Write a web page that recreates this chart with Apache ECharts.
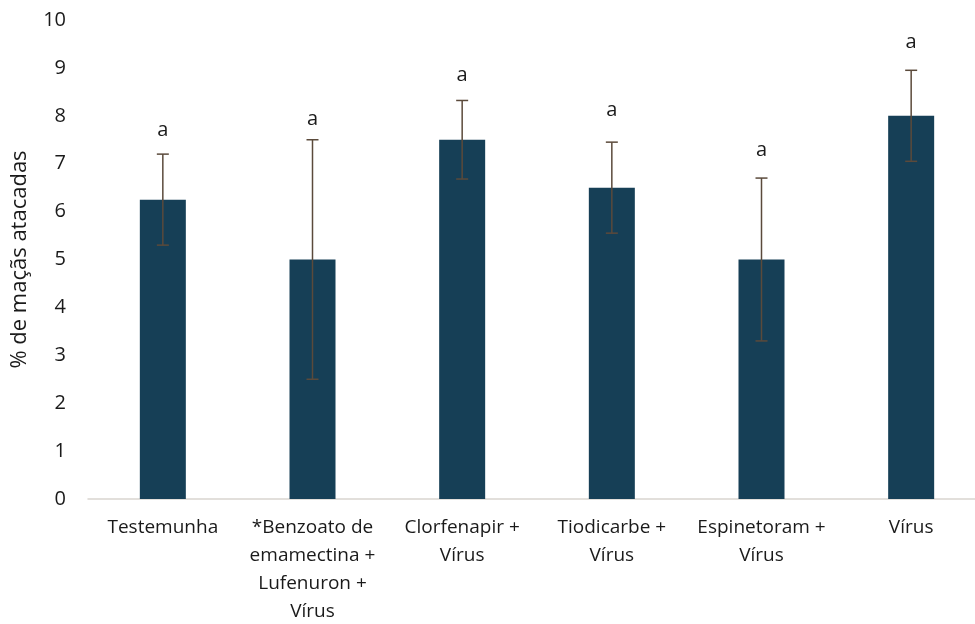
<!DOCTYPE html>
<html>
<head>
<meta charset="utf-8">
<script src="https://cdn.jsdelivr.net/npm/echarts@6/dist/echarts.min.js"></script>
<style>
  html, body { margin: 0; padding: 0; background: #fff; overflow: hidden; }
  #chart { width: 975px; height: 624px; }
</style>
</head>
<body>
<div id="chart"></div>
<script>
// Treatments tested
const categories = [
  'Testemunha',
  '*Benzoato de\nemamectina +\nLufenuron +\nVírus',
  'Clorfenapir +\nVírus',
  'Tiodicarbe +\nVírus',
  'Espinetoram +\nVírus',
  'Vírus'
];
// Mean % of attacked apples
const means = [6.25, 5.0, 7.5, 6.5, 5.0, 8.0];
// Standard error (± around mean)
const errors = [0.95, 2.5, 0.82, 0.95, 1.7, 0.95];
// Statistical grouping letters and the height at which each is written
const letters = ['a', 'a', 'a', 'a', 'a', 'a'];
const letterAt = [7.69, 7.93, 8.85, 8.12, 7.27, 9.53];
// Y-axis ticks
const yTicks = [0, 1, 2, 3, 4, 5, 6, 7, 8, 9, 10];

const FONT = 'Open Sans';
const chart = echarts.init(document.getElementById('chart'), null, { renderer: 'canvas' });

const errData = means.map((m, i) => [i, m - errors[i], m + errors[i]]);
const letterData = letters.map((t, i) => [i, letterAt[i], t]);

chart.setOption({
  animation: false,
  backgroundColor: '#ffffff',
  grid: {
    left: 88, top: 20, width: 898, height: 479,
    containLabel: false,
    outerBoundsMode: 'none'
  },
  xAxis: {
    type: 'category',
    data: categories,
    axisLine: { lineStyle: { color: '#d9d5cf', width: 1.5 } },
    axisTick: { show: false },
    axisLabel: {
      interval: 0,
      margin: 15,
      color: '#1a1a1a',
      fontFamily: FONT,
      fontSize: 19,
      lineHeight: 28
    }
  },
  yAxis: {
    type: 'value',
    min: yTicks[0],
    max: yTicks[yTicks.length - 1],
    interval: 1,
    name: '% de maçãs atacadas',
    nameLocation: 'middle',
    nameGap: 57,
    nameTextStyle: { color: '#1a1a1a', fontFamily: FONT, fontSize: 22 },
    axisLine: { show: false },
    axisTick: { show: false },
    splitLine: { show: false },
    axisLabel: { color: '#1a1a1a', fontFamily: FONT, fontSize: 20, margin: 22 }
  },
  series: [
    {
      type: 'bar',
      data: means,
      barWidth: 46,
      itemStyle: { color: '#163f56' },
      z: 2
    },
    {
      type: 'custom',
      data: errData,
      z: 3,
      renderItem: function (params, api) {
        const i = api.value(0);
        const lo = api.coord([i, api.value(1)]);
        const hi = api.coord([i, api.value(2)]);
        const cap = 6;
        const style = { stroke: '#5b4a3b', lineWidth: 1.5 };
        return {
          type: 'group',
          children: [
            { type: 'line', shape: { x1: lo[0], y1: lo[1], x2: hi[0], y2: hi[1] }, style: style },
            { type: 'line', shape: { x1: hi[0] - cap, y1: hi[1], x2: hi[0] + cap, y2: hi[1] }, style: style },
            { type: 'line', shape: { x1: lo[0] - cap, y1: lo[1], x2: lo[0] + cap, y2: lo[1] }, style: style }
          ]
        };
      }
    },
    {
      type: 'custom',
      data: letterData,
      z: 4,
      renderItem: function (params, api) {
        const p = api.coord([api.value(0), api.value(1)]);
        return {
          type: 'text',
          x: p[0],
          y: p[1],
          style: {
            text: letters[params.dataIndex],
            fill: '#1a1a1a',
            font: '20px "' + FONT + '"',
            align: 'center',
            verticalAlign: 'middle'
          }
        };
      }
    }
  ]
});
</script>
</body>
</html>
